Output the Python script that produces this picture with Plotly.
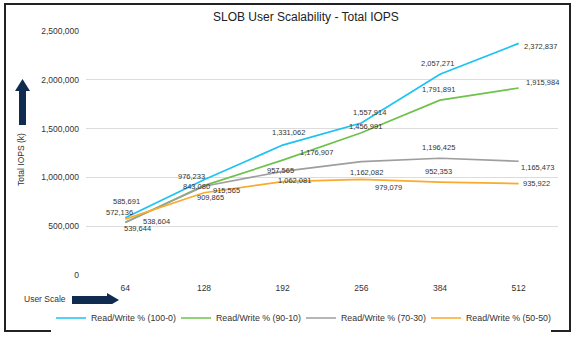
import plotly.graph_objects as go

# User counts on the x axis
users = ["64", "128", "192", "256", "384", "512"]

# Total IOPS per read/write mix
iops_100_0 = [585691, 976233, 1331062, 1557914, 2057271, 2372837]
iops_90_10 = [538604, 915565, 1176907, 1456991, 1791891, 1915984]
iops_70_30 = [539644, 909865, 1062081, 1162082, 1196425, 1165473]
iops_50_50 = [572136, 843080, 957565, 979079, 952353, 935922]

series_names = ["Read/Write % (100-0)", "Read/Write % (90-10)",
                "Read/Write % (70-30)", "Read/Write % (50-50)"]
y_ticks = [0, 500000, 1000000, 1500000, 2000000, 2500000]

W, H = 576, 338
L, R, T, B = 86, 18, 31, 63
PW, PH = W - L - R, H - T - B


def px(x):
    return (x - L) / PW


def py(y):
    return (H - B - y) / PH


colors = ["#1CC2F2", "#6DC24B", "#9E9E9E", "#FAAA2C"]

# pixel offsets (dx, dy downwards) of each value label from its point
label_offsets = [
    [(1, -16), (-13, -3), (6, -13), (8, -10), (-3, -11), (22, 3)],
    [(31, -1), (22, 5), (34, -8), (4, -6), (-2, -11), (24, -6)],
    [(12, 6), (6, 11), (12, 9), (5, 11), (-2, -11), (19, 6)],
    [(-6, -7), (-8, -6), (-2, -11), (27, 8), (-2, -11), (18, 0)],
]

font = "Liberation Sans, Arial, sans-serif"
navy = "#0F2B50"

fig = go.Figure()
annotations = []
all_series = [iops_100_0, iops_90_10, iops_70_30, iops_50_50]
for name, vals, col, offs in zip(series_names, all_series, colors, label_offsets):
    fig.add_trace(go.Scatter(
        x=users, y=vals, name=name, mode="lines",
        line=dict(color=col, width=1.7),
    ))
    for i, (v, (dx, dy)) in enumerate(zip(vals, offs)):
        annotations.append(dict(
            x=i, y=v, xref="x", yref="y", text=f"{v:,}", showarrow=False,
            xanchor="center", yanchor="middle",
            xshift=dx, yshift=-dy, font=dict(size=7.5, color="#333333", family=font),
        ))


def poly(pts):
    return "M " + " L ".join(f"{px(a):.5f},{py(b):.5f}" for a, b in pts) + " Z"


# upward arrow beside the y axis
up_arrow = [(19, 125), (26, 125), (26, 91), (30, 91), (22.5, 79), (15, 91), (19, 91)]
# rightward arrow beside the x axis title
right_arrow = [(72, 296), (107, 296), (107, 293), (119, 300), (107, 307), (107, 304), (72, 304)]

shapes = [
    dict(type="path", path=poly(up_arrow), xref="paper", yref="paper",
         fillcolor=navy, line=dict(width=0)),
    dict(type="path", path=poly(right_arrow), xref="paper", yref="paper",
         fillcolor=navy, line=dict(width=0)),
    dict(type="rect", xref="paper", yref="paper",
         x0=px(5), x1=px(570), y0=py(4), y1=py(331),
         line=dict(color="#222222", width=2), fillcolor="rgba(0,0,0,0)"),
]

annotations += [
    dict(text="SLOB User Scalability - Total IOPS", xref="paper", yref="paper",
         x=px(306), y=py(17), xanchor="center", yanchor="middle", showarrow=False,
         font=dict(size=12, color="#222222", family=font)),
    dict(text="Total IOPS (k)", xref="paper", yref="paper", x=px(21), y=py(160),
         xanchor="center", yanchor="middle", showarrow=False, textangle=-90,
         font=dict(size=8.5, color="#333333", family=font)),
    dict(text="User Scale", xref="paper", yref="paper", x=px(45), y=py(299),
         xanchor="center", yanchor="middle", showarrow=False,
         font=dict(size=8.5, color="#333333", family=font)),
]

fig.update_layout(
    width=W, height=H,
    margin=dict(l=L, r=R, t=T, b=B, autoexpand=False),
    paper_bgcolor="white", plot_bgcolor="white",
    font=dict(family=font, color="#333333"),
    showlegend=True,
    legend=dict(orientation="h", x=px(51), xanchor="left", y=py(318), yanchor="middle",
                font=dict(size=8.8, color="#333333"), entrywidth=80,
                entrywidthmode="pixels", itemwidth=30, tracegroupgap=0),
    shapes=shapes, annotations=annotations,
)
fig.update_xaxes(type="category", range=[-0.5, 5.5], showgrid=False, showline=False,
                 zeroline=False, ticks="", tickfont=dict(size=8.5, color="#333333"),
                 ticklabelstandoff=6, automargin=False)
fig.update_yaxes(range=[0, 2500000], tickvals=y_ticks,
                 ticktext=[f"{v:,}" for v in y_ticks],
                 showgrid=True, gridcolor="#DCDCDC", gridwidth=1.3,
                 zeroline=False, showline=False, automargin=False,
                 tickfont=dict(size=8.5, color="#333333"), ticklabelstandoff=6)

fig.write_html("out.html")
